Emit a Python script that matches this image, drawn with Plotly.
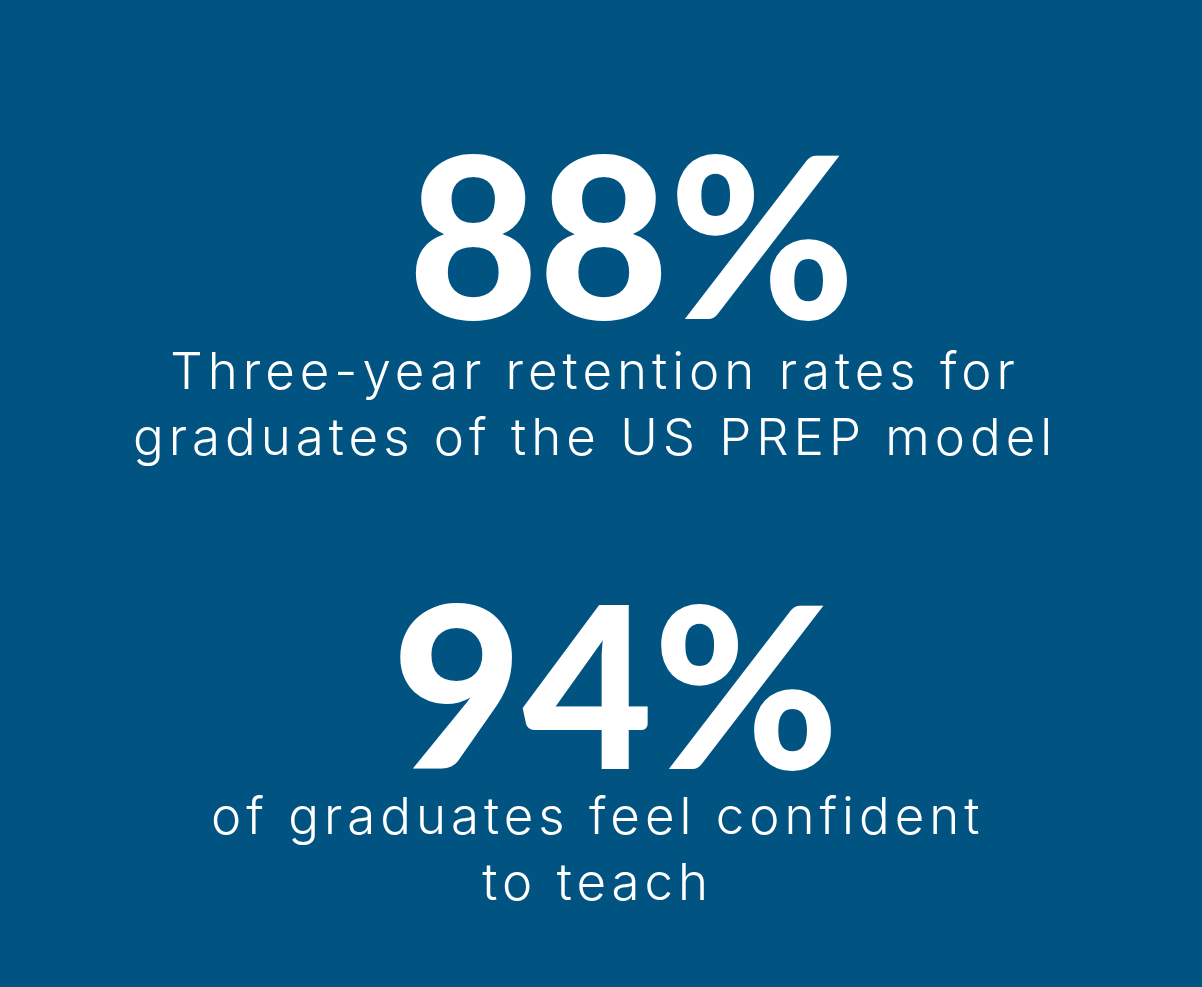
import plotly.graph_objects as go

# figures and captions as shown on the card
stat_values = ["88%", "94%"]
stat_captions = [
    ["Three-year retention rates for", "graduates of the US PREP model"],
    ["of graduates feel confident", "to teach"],
]

bg = "#015482"

fig = go.Figure()

# where each block sits on the card (paper coords)
stat_pos = [(0.525, 0.765), (0.512, 0.309)]
cap_pos = [(0.495, 0.591), (0.4975, 0.14)]


def spaced(lines):
    # caption type on the card is tracked out
    return "<br>".join('<span style="letter-spacing:5px">%s</span>' % s for s in lines)


for val, cap, (sx, sy), (cx, cy) in zip(stat_values, stat_captions, stat_pos, cap_pos):
    fig.add_annotation(x=sx, y=sy, xref="paper", yref="paper", text=val,
                       showarrow=False, xanchor="center", yanchor="middle",
                       font=dict(family="Lato", size=225, color="white", weight=900))
    fig.add_annotation(x=cx, y=cy, xref="paper", yref="paper", text=spaced(cap),
                       showarrow=False, xanchor="center", yanchor="middle", align="center",
                       font=dict(family="Inter", size=51, color="white", weight=300))

fig.update_layout(
    width=1202, height=987,
    margin=dict(l=0, r=0, t=0, b=0),
    paper_bgcolor=bg, plot_bgcolor=bg,
    xaxis=dict(visible=False), yaxis=dict(visible=False),
    showlegend=False,
)

fig.write_html("out.html", config={"displayModeBar": False},
               post_script="document.body.style.margin='0';")
